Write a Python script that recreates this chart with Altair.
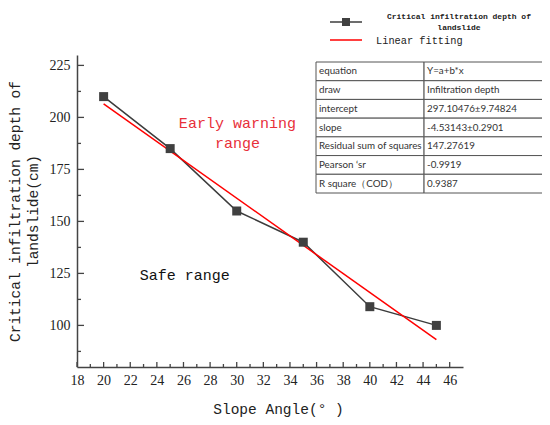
import altair as alt
import pandas as pd

# ---- data ----
angles = [20, 25, 30, 35, 40, 45]
depths = [210, 185, 155, 140, 109, 100]

x_major = list(range(18, 47, 2))
x_minor = list(range(19, 47, 2))
y_major = [100, 125, 150, 175, 200, 225]
y_minor = [87.5, 112.5, 137.5, 162.5, 187.5, 212.5]
X_DOMAIN = [18, 47]
Y_DOMAIN = [80, 230]

ann_text = ["Early warning\nrange", "Safe range"]
ann_angle = [30.05, 26.1]
ann_depth = [197.3, 124.0]
ann_color = ["#e8303a", "#111111"]

table_keys = ["equation", "draw", "intercept", "slope",
              "Residual sum of squares", "Pearson  \u2018sr", "R square\uff08COD\uff09"]
table_vals = ["Y=a+b*x", "Infiltration depth", "297.10476\u00b19.74824",
              "-4.53143\u00b10.2901", "147.27619", "-0.9919", "0.9387"]
col_edges = [0.0, 0.476, 1.0]

legend_labels = ["Critical infiltration depth of\nlandslide", "Linear fitting"]
legend_colors = ["#3c3c3c", "#ff0000"]

SERIES_COLOR = "#3c3c3c"
FIT_COLOR = "#ff0000"
AXIS_COLOR = "#444444"
TITLE_FONT = "Liberation Mono"

# ---- main plot ----
xs = alt.Scale(domain=X_DOMAIN, nice=False, zero=False)
ys = alt.Scale(domain=Y_DOMAIN, nice=False, zero=False)

df = pd.DataFrame({"angle": angles, "depth": depths})

x_axis = alt.Axis(values=x_major, ticks=False, grid=False, domainColor=AXIS_COLOR,
                  domainWidth=1.5, labelFont="Liberation Serif", labelFontSize=14,
                  labelColor="#222222", labelPadding=6, labelOverlap=False,
                  labelFlush=False,
                  title="Slope Angle(\u00b0 )", titleFont=TITLE_FONT, titleFontSize=14.5,
                  titleFontWeight="normal", titleColor="#222222",
                  titleX=201, titleY=42, titleBaseline="middle")
y_axis = alt.Axis(values=y_major, ticks=False, grid=False, domainColor=AXIS_COLOR,
                  domainWidth=1.5, labelFont="Liberation Serif", labelFontSize=14,
                  labelColor="#222222", labelPadding=7, labelOverlap=False,
                  labelFlush=False,
                  title=["Critical infiltration depth of", "landslide(cm)"],
                  titleFont=TITLE_FONT, titleFontSize=14.5, titleFontWeight="normal",
                  titleColor="#222222", titleX=-62, titleY=156, titleAngle=-90,
                  titleBaseline="middle", titleLineHeight=18)

def X(field="angle"):
    return alt.X(f"{field}:Q", scale=xs, axis=x_axis)

def Y(field="depth"):
    return alt.Y(f"{field}:Q", scale=ys, axis=y_axis)

base = alt.Chart(df)
line = base.mark_line(color=SERIES_COLOR, strokeWidth=1.5).encode(x=X(), y=Y())
points = base.mark_square(size=81, color="#404040", opacity=1).encode(x=X(), y=Y())
fit = base.transform_regression("angle", "depth", method="linear").mark_line(
    color=FIT_COLOR, strokeWidth=1.5).encode(x=X(), y=Y())

xt_major = alt.Chart(pd.DataFrame({"angle": x_major, "depth": Y_DOMAIN[0]})).mark_tick(
    orient="vertical", size=5, thickness=1.3, yOffset=-2.5, color=AXIS_COLOR, opacity=1
).encode(x=X(), y=Y())
xt_minor = alt.Chart(pd.DataFrame({"angle": x_minor, "depth": Y_DOMAIN[0]})).mark_tick(
    orient="vertical", size=3, thickness=1.3, yOffset=-1.5, color=AXIS_COLOR, opacity=1
).encode(x=X(), y=Y())
yt_major = alt.Chart(pd.DataFrame({"angle": X_DOMAIN[0], "depth": y_major})).mark_tick(
    orient="horizontal", size=7, thickness=1.3, xOffset=3.5, color=AXIS_COLOR, opacity=1
).encode(x=X(), y=Y())
yt_minor = alt.Chart(pd.DataFrame({"angle": X_DOMAIN[0], "depth": y_minor})).mark_tick(
    orient="horizontal", size=4, thickness=1.3, xOffset=2, color=AXIS_COLOR, opacity=1
).encode(x=X(), y=Y())

ann_df = pd.DataFrame({"angle": ann_angle, "depth": ann_depth, "t": ann_text, "c": ann_color})
ann = alt.Chart(ann_df).mark_text(font=TITLE_FONT, fontSize=15, lineBreak="\n",
                                  lineHeight=20, align="center", baseline="middle").encode(
    x=X(), y=Y(), text="t:N",
    color=alt.Color("c:N", scale=None))

main = alt.layer(line, fit, points, xt_major, xt_minor, yt_major, yt_minor, ann)

# ---- table ----
nrow = len(table_keys)
tab_rows = []
for i, (k, v) in enumerate(zip(table_keys, table_vals)):
    tab_rows.append({"r0": i, "r1": i + 1, "rc": i + 0.5, "x0": col_edges[0], "x1": col_edges[1], "t": k})
    tab_rows.append({"r0": i, "r1": i + 1, "rc": i + 0.5, "x0": col_edges[1], "x1": col_edges[2], "t": v})
tab_df = pd.DataFrame(tab_rows)
tx = alt.Scale(domain=[0, 1], range=[239, 466])
ty = alt.Scale(domain=[0, nrow], range=[7, 138])
tab_base = alt.Chart(tab_df)
cells = tab_base.mark_rect(fill="white", stroke="#555555", strokeWidth=1).encode(
    x=alt.X("x0:Q", scale=tx, axis=None), x2="x1:Q",
    y=alt.Y("r0:Q", scale=ty, axis=None), y2="r1:Q")
cell_text = tab_base.mark_text(font="Lato", fontSize=9.8, align="left",
                               baseline="middle", dx=3, color="#333333").encode(
    x=alt.X("x0:Q", scale=tx, axis=None),
    y=alt.Y("rc:Q", scale=ty, axis=None), text="t:N")
table = alt.layer(cells, cell_text)

# ---- legend ----
lg_df = pd.DataFrame({"row": [0, 1], "x0": [0, 0], "x1": [1, 1], "xm": [0.5, 0.5],
                      "lab": legend_labels, "col": legend_colors,
                      "tx": [4.03, 1.44], "ty": [-0.3, 1.05]})
lx = alt.Scale(domain=[0, 1], range=[253, 285])
ly = alt.Scale(domain=[0, 1], range=[-33, -15])
lg_base = alt.Chart(lg_df)
lg_lines = lg_base.mark_rule(strokeWidth=1.5).encode(
    x=alt.X("x0:Q", scale=lx, axis=None), x2="x1:Q",
    y=alt.Y("row:Q", scale=ly, axis=None),
    color=alt.Color("col:N", scale=None))
lg_sq = lg_base.transform_filter("datum.row == 0").mark_square(
    size=64, color="#404040", opacity=1).encode(
    x=alt.X("xm:Q", scale=lx, axis=None), y=alt.Y("row:Q", scale=ly, axis=None))
lg_t0 = lg_base.transform_filter("datum.row == 0").mark_text(
    font=TITLE_FONT, fontSize=8, fontWeight="bold", lineBreak="\n", lineHeight=11,
    align="center", baseline="middle", color="#222222").encode(
    x=alt.X("tx:Q", scale=lx, axis=None), y=alt.Y("ty:Q", scale=ly, axis=None), text="lab:N")
lg_t1 = lg_base.transform_filter("datum.row == 1").mark_text(
    font=TITLE_FONT, fontSize=10.3, align="left", baseline="middle", color="#222222").encode(
    x=alt.X("tx:Q", scale=lx, axis=None), y=alt.Y("ty:Q", scale=ly, axis=None), text="lab:N")
legend = alt.layer(lg_lines, lg_sq, lg_t0, lg_t1)

chart = alt.layer(main, table, legend).resolve_scale(
    x="independent", y="independent", color="independent"
).properties(
    width=386, height=312,
    padding={"left": 69, "top": 47, "right": 79, "bottom": 50},
    autosize=alt.AutoSizeParams(type="none"),
    background="white",
).configure_view(stroke=None)

chart.save("out.html", embed_options={"renderer": "svg", "actions": False})
